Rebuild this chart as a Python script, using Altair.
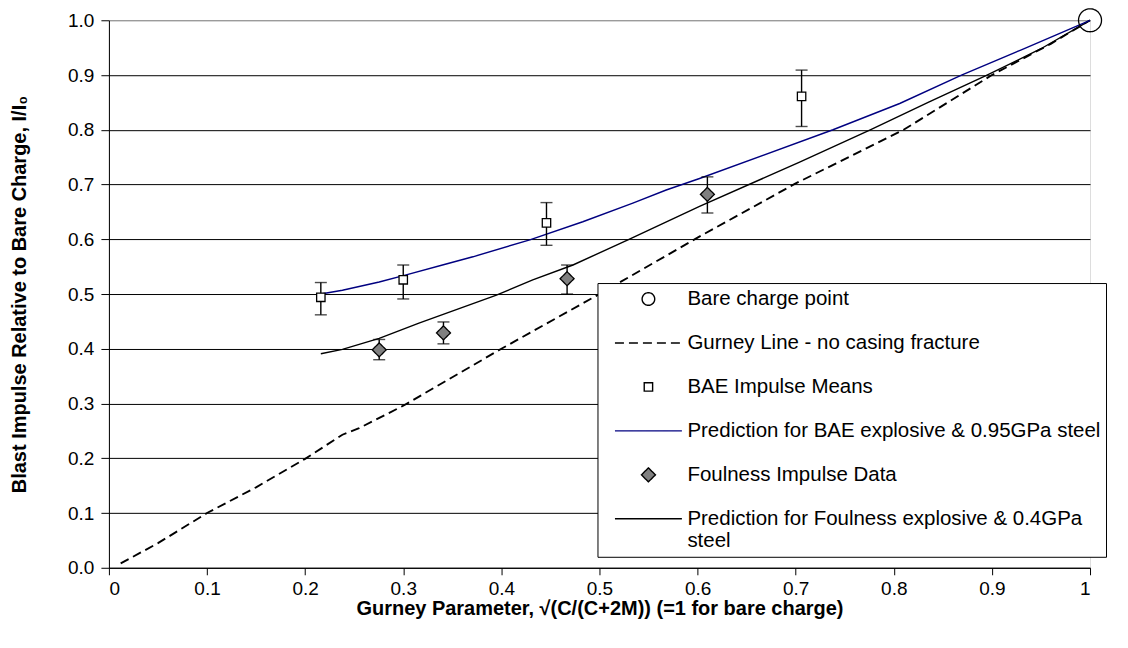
import altair as alt
import pandas as pd

# ---------------- data ----------------
S_BARE = "Bare charge point"
S_GURNEY = "Gurney Line - no casing fracture"
S_BAE = "BAE Impulse Means"
S_BAEP = "Prediction for BAE explosive & 0.95GPa steel"
S_FOUL = "Foulness Impulse Data"
S_FOULP = "Prediction for Foulness explosive & 0.4GPa steel"
series_order = [S_BARE, S_GURNEY, S_BAE, S_BAEP, S_FOUL, S_FOULP]

bare_x = [1.0]
bare_y = [1.0]

bae_x = [0.216, 0.300, 0.446, 0.706]
bae_y = [0.494, 0.526, 0.630, 0.861]
bae_lo = [0.462, 0.491, 0.589, 0.806]
bae_hi = [0.521, 0.553, 0.667, 0.909]

foul_x = [0.2755, 0.341, 0.467, 0.610]
foul_y = [0.398, 0.429, 0.528, 0.682]
foul_lo = [0.380, 0.409, 0.500, 0.648]
foul_hi = [0.417, 0.449, 0.553, 0.714]

gurney_x = [0.012, 0.05, 0.10, 0.15, 0.20, 0.238, 0.255, 0.30, 0.40, 0.50, 0.60, 0.70, 0.81, 0.90, 0.96, 1.0]
gurney_y = [0.008, 0.045, 0.10, 0.147, 0.199, 0.243, 0.255, 0.296, 0.40, 0.50, 0.603, 0.702, 0.80, 0.90, 0.957, 1.0]

baep_x = [0.216, 0.238, 0.2755, 0.303, 0.340, 0.371, 0.429, 0.483, 0.534, 0.568, 0.602, 0.738, 0.806, 0.869, 0.93, 1.0]
baep_y = [0.500, 0.507, 0.522, 0.535, 0.553, 0.568, 0.599, 0.632, 0.666, 0.690, 0.711, 0.800, 0.848, 0.900, 0.946, 1.0]

foulp_x = [0.216, 0.238, 0.2755, 0.316, 0.395, 0.432, 0.473, 0.529, 0.602, 0.704, 0.776, 0.835, 0.895, 0.95, 1.0]
foulp_y = [0.391, 0.399, 0.419, 0.447, 0.498, 0.526, 0.553, 0.599, 0.660, 0.741, 0.800, 0.850, 0.900, 0.948, 1.0]

x_ticks = [0, 0.1, 0.2, 0.3, 0.4, 0.5, 0.6, 0.7, 0.8, 0.9, 1.0]
y_ticks = [0, 0.1, 0.2, 0.3, 0.4, 0.5, 0.6, 0.7, 0.8, 0.9, 1.0]

# ---------------- tables ----------------
points = pd.concat([
    pd.DataFrame({"x": bare_x, "y": bare_y, "series": S_BARE}),
    pd.DataFrame({"x": bae_x, "y": bae_y, "series": S_BAE}),
    pd.DataFrame({"x": foul_x, "y": foul_y, "series": S_FOUL}),
], ignore_index=True)

errs = pd.concat([
    pd.DataFrame({"x": bae_x, "lo": bae_lo, "hi": bae_hi}),
    pd.DataFrame({"x": foul_x, "lo": foul_lo, "hi": foul_hi}),
], ignore_index=True)

gurney = pd.DataFrame({"x": gurney_x, "y": gurney_y})
baep = pd.DataFrame({"x": baep_x, "y": baep_y})
foulp = pd.DataFrame({"x": foulp_x, "y": foulp_y})

FONT = "Liberation Sans"
NAVY = "#000080"

xscale = alt.Scale(domain=[0, 1], nice=False, zero=False)
yscale = alt.Scale(domain=[0, 1], nice=False, zero=False)

x_axis = alt.Axis(
    values=x_ticks, grid=False, title="Gurney Parameter, √(C/(C+2M)) (=1 for bare charge)",
    labelExpr="datum.value == 0 ? '0' : (datum.value == 1 ? '1' : format(datum.value, '.1f'))",
    labelFont=FONT, labelFontSize=19, labelColor="black", labelPadding=5,
    tickSize=7, tickColor="black", domainColor="black",
    titleFont=FONT, titleFontSize=20, titleFontWeight="bold", titleColor="black",
    titleX=491, titleY=41, titleAlign="center", titleBaseline="middle",
)
y_axis = alt.Axis(
    values=y_ticks, format=".1f", title="Blast Impulse Relative to Bare Charge, I/I₀",
    grid=True, gridColor={"condition": {"test": "datum.value >= 1", "value": "#808080"}, "value": "black"},
    gridWidth=1, gridOpacity=1,
    labelFont=FONT, labelFontSize=19, labelColor="black", labelPadding=7,
    tickSize=8, tickColor="black", domainColor="black",
    titleFont=FONT, titleFontSize=20, titleFontWeight="bold", titleColor="black",
    titleX=-89, titleY=274, titleAngle=-90, titleAlign="center", titleBaseline="middle",
)

X = alt.X("x:Q", scale=xscale, axis=x_axis)
Y = alt.Y("y:Q", scale=yscale, axis=y_axis)

# legend symbol paths (unit 1 = sqrt(size)/2 pixels; legend symbolSize 400 -> 10 px)
P_CIRCLE = "M0.63,0A0.63,0.63 0 1,1 -0.63,0A0.63,0.63 0 1,1 0.63,0Z"
P_SQUARE = "M-0.42,-0.42H0.42V0.42H-0.42Z"
P_DIAMOND = "M0,-0.7L0.7,0L0,0.7L-0.7,0Z"
P_LINE = "M-3.35,0H3.35"

legend = alt.Legend(
    title=None, orient="none", legendX=489, legendY=263,
    fillColor="white", strokeColor="black", padding=5,
    symbolSize=400, symbolStrokeWidth=1.4, symbolOffset=35, labelOffset=28,
    labelFont=FONT, labelFontSize=20.5, labelColor="black", labelLimit=600,
    rowPadding=22,
    labelExpr=("datum.label == '" + S_FOULP + "' ? ['Prediction for Foulness explosive & 0.4GPa', 'steel'] : datum.label"),
)

stroke_enc = alt.Stroke("series:N", scale=alt.Scale(domain=series_order,
                        range=["black", "black", "black", NAVY, "black", "black"]), legend=legend)
fill_enc = alt.Fill("series:N", scale=alt.Scale(domain=series_order,
                    range=["transparent", "transparent", "white", "transparent", "#808080", "transparent"]), legend=legend)
shape_enc = alt.Shape("series:N", scale=alt.Scale(domain=series_order,
                      range=[P_CIRCLE, P_LINE, P_SQUARE, P_LINE, P_DIAMOND, P_LINE]), legend=legend)
dash_enc = alt.StrokeDash("series:N", scale=alt.Scale(domain=series_order,
                          range=[[1, 0], [9, 5], [1, 0], [1, 0], [1, 0], [1, 0]]), legend=legend)

gurney_line = alt.Chart(gurney).mark_line(color="black", strokeWidth=1.9, strokeDash=[9, 5]).encode(x=X, y=Y)
foulp_line = alt.Chart(foulp).mark_line(color="black", strokeWidth=1.4).encode(x=X, y=Y)
baep_line = alt.Chart(baep).mark_line(color=NAVY, strokeWidth=1.4).encode(x=X, y=Y)

err_rule = alt.Chart(errs).mark_rule(color="black", strokeWidth=1.4).encode(
    x=alt.X("x:Q", scale=xscale), y=alt.Y("lo:Q", scale=yscale), y2="hi:Q")
cap_lo = alt.Chart(errs).mark_tick(color="black", orient="horizontal", size=12, thickness=1.4).encode(
    x=alt.X("x:Q", scale=xscale), y=alt.Y("lo:Q", scale=yscale))
cap_hi = alt.Chart(errs).mark_tick(color="black", orient="horizontal", size=12, thickness=1.4).encode(
    x=alt.X("x:Q", scale=xscale), y=alt.Y("hi:Q", scale=yscale))

pts = alt.Chart(points).transform_calculate(
    sz="datum.series == '" + S_BARE + "' ? 1332 : 400"
).mark_point(opacity=1, fillOpacity=1, strokeWidth=1.3).encode(
    x=X, y=Y,
    stroke=stroke_enc, fill=fill_enc, shape=shape_enc, strokeDash=dash_enc,
    size=alt.Size("sz:Q", scale=None, legend=None),
)

chart = alt.layer(gurney_line, foulp_line, baep_line, err_rule, cap_lo, cap_hi, pts).properties(
    width=982, height=548,
    padding={"left": 101, "top": 12, "right": 30, "bottom": 70},
    autosize=alt.AutoSizeParams(type="none"),
).configure_view(stroke="#808080", strokeWidth=1).configure(background="white")

chart.save("out.html", embed_options={"renderer": "svg", "actions": False})
